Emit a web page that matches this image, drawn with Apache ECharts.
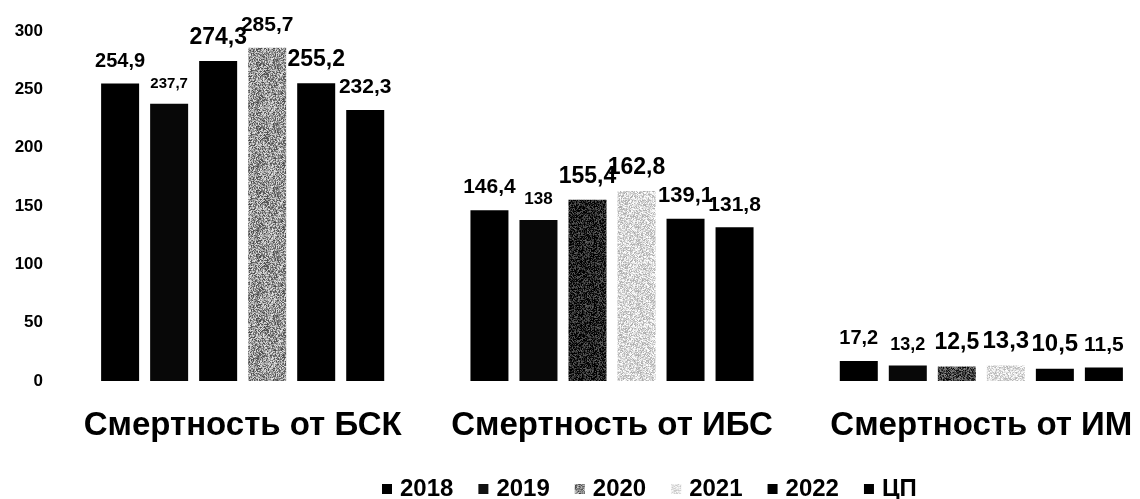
<!DOCTYPE html>
<html>
<head>
<meta charset="utf-8">
<script src="https://cdn.jsdelivr.net/npm/echarts@6/dist/echarts.min.js"></script>
<style>
  html, body { margin: 0; padding: 0; background: #fff; overflow: hidden; }
  /* the plot runs slightly past the right edge of the page */
  #chart { width: 1200px; height: 499px; }
</style>
</head>
<body>
<div id="chart"></div>
<script>
// ---- data ----
const categories = ['Смертность от БСК', 'Смертность от ИБС', 'Смертность от ИМ'];
const seriesNames = ['2018', '2019', '2020', '2021', '2022', 'ЦП'];
const values2018 = [254.9, 146.4, 17.2];
const values2019 = [237.7, 138, 13.2];
const values2020 = [274.3, 155.4, 12.5];
const values2021 = [285.7, 162.8, 13.3];
const values2022 = [255.2, 139.1, 10.5];
const valuesCP = [232.3, 131.8, 11.5];
const yMin = 0, yMax = 300, yStep = 50;

// ---- styling ----
const FONT = '"Liberation Sans", Arial, sans-serif';

// grainy fill for the grey bars
function grain(base, spread, seed) {
  const c = document.createElement('canvas');
  c.width = 64; c.height = 64;
  const ctx = c.getContext('2d');
  const img = ctx.createImageData(64, 64);
  for (let y = 0; y < 64; y++) {
    for (let x = 0; x < 64; x++) {
      let h = (x * 374761393 + y * 668265263 + seed * 144665) | 0;
      h = Math.imul(h ^ (h >>> 13), 1274126177);
      h = (h ^ (h >>> 16)) & 255;
      const v = Math.max(0, Math.min(255, base + ((h / 255) - 0.5) * 2 * spread));
      const i = (y * 64 + x) * 4;
      img.data[i] = img.data[i + 1] = img.data[i + 2] = v;
      img.data[i + 3] = 255;
    }
  }
  ctx.putImageData(img, 0, 0);
  return { image: c, repeat: 'repeat' };
}

const BLACK = '#000000';
const fills = {
  '2018': [BLACK, BLACK, BLACK],
  '2019': ['#080808', '#080808', '#080808'],
  '2020': [BLACK, grain(35, 60, 3), grain(70, 70, 5)],
  '2021': [grain(150, 80, 7), grain(215, 45, 11), grain(220, 40, 13)],
  '2022': [BLACK, BLACK, BLACK],
  'ЦП': [BLACK, BLACK, BLACK]
};
const legendFills = {
  '2018': BLACK, '2019': '#111111', '2020': grain(130, 80, 17),
  '2021': grain(225, 30, 19), '2022': BLACK, 'ЦП': BLACK
};
const labelSizes = {
  '2018': [20, 21, 20],
  '2019': [15, 17, 18],
  '2020': [23, 23, 23],
  '2021': [21, 23, 24],
  '2022': [23, 22, 24],
  'ЦП': [21, 21, 21]
};

const seriesValues = [values2018, values2019, values2020, values2021, values2022, valuesCP];

const series = seriesNames.map((name, si) => ({
  name: name,
  type: 'bar',
  barWidth: 38,
  barGap: '29%',
  itemStyle: { color: legendFills[name] },
  label: {
    show: true,
    position: 'top',
    distance: 12,
    color: '#000',
    fontFamily: FONT,
    fontWeight: 'bold',
    formatter: p => String(p.value).replace('.', ',')
  },
  data: seriesValues[si].map((v, ci) => ({
    value: v,
    itemStyle: { color: fills[name][ci] },
    label: { fontSize: labelSizes[name][ci] }
  }))
}));

const chart = echarts.init(document.getElementById('chart'), null, { renderer: 'canvas' });
chart.setOption({
  animation: false,
  backgroundColor: '#ffffff',
  grid: { left: 58, top: 31, width: 1108, height: 350, containLabel: false },
  legend: {
    data: seriesNames.map(n => ({ name: n, itemStyle: { color: legendFills[n] } })),
    left: 382,
    top: 477,
    padding: 0,
    icon: 'rect',
    itemWidth: 10,
    itemHeight: 10,
    itemGap: 25,
    textStyle: {
      color: '#000',
      fontFamily: FONT,
      fontWeight: 'bold',
      fontSize: 24,
      padding: [0, 0, 0, 3]
    }
  },
  xAxis: {
    type: 'category',
    data: categories,
    axisLine: { show: false },
    axisTick: { show: false },
    axisLabel: {
      margin: 28,
      color: '#000',
      fontFamily: FONT,
      fontWeight: 'bold',
      fontSize: 33,
      interval: 0
    }
  },
  yAxis: {
    type: 'value',
    min: yMin,
    max: yMax,
    interval: yStep,
    axisLine: { show: false },
    axisTick: { show: false },
    splitLine: { show: false },
    axisLabel: {
      margin: 15,
      color: '#000',
      fontFamily: FONT,
      fontWeight: 'bold',
      fontSize: 17
    }
  },
  series: series
});
</script>
</body>
</html>
